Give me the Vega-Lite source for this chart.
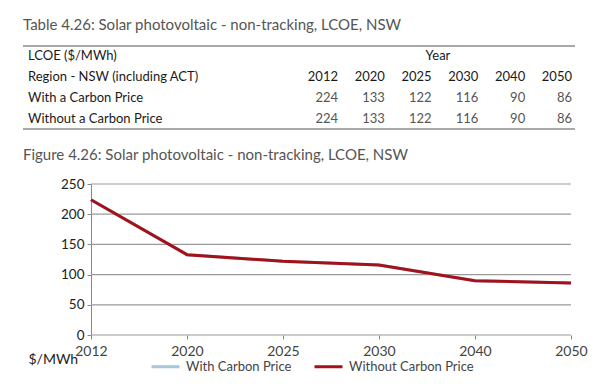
{
  "$schema": "https://vega.github.io/schema/vega-lite/v6.json",
  "padding": {"left": 22, "top": 18, "right": 0, "bottom": 0},
  "background": "white",
  "spacing": 18,
  "config": {
    "view": {"stroke": null},
    "font": "Lato",
    "title": {"font": "Lato", "fontSize": 15, "fontWeight": "normal", "color": "#555555", "anchor": "start", "frame": "group", "baseline": "bottom"}
  },
  "datasets": {
    "lcoe": [
      {"year": "2012", "scenario": "With Carbon Price", "row": "With a Carbon Price", "lcoe": 224},
      {"year": "2020", "scenario": "With Carbon Price", "row": "With a Carbon Price", "lcoe": 133},
      {"year": "2025", "scenario": "With Carbon Price", "row": "With a Carbon Price", "lcoe": 122},
      {"year": "2030", "scenario": "With Carbon Price", "row": "With a Carbon Price", "lcoe": 116},
      {"year": "2040", "scenario": "With Carbon Price", "row": "With a Carbon Price", "lcoe": 90},
      {"year": "2050", "scenario": "With Carbon Price", "row": "With a Carbon Price", "lcoe": 86},
      {"year": "2012", "scenario": "Without Carbon Price", "row": "Without a Carbon Price", "lcoe": 224},
      {"year": "2020", "scenario": "Without Carbon Price", "row": "Without a Carbon Price", "lcoe": 133},
      {"year": "2025", "scenario": "Without Carbon Price", "row": "Without a Carbon Price", "lcoe": 122},
      {"year": "2030", "scenario": "Without Carbon Price", "row": "Without a Carbon Price", "lcoe": 116},
      {"year": "2040", "scenario": "Without Carbon Price", "row": "Without a Carbon Price", "lcoe": 90},
      {"year": "2050", "scenario": "Without Carbon Price", "row": "Without a Carbon Price", "lcoe": 86}
    ],
    "rowlabels": [
      {"label": "LCOE ($/MWh)"},
      {"label": "Region - NSW (including ACT)"},
      {"label": "With a Carbon Price"},
      {"label": "Without a Carbon Price"}
    ],
    "grid": [{"gv": 0}, {"gv": 50}, {"gv": 100}, {"gv": 150}, {"gv": 200}, {"gv": 250}]
  },
  "vconcat": [
    {
      "title": {"text": "Table 4.26: Solar photovoltaic - non-tracking, LCOE, NSW", "offset": 12},
      "width": 552,
      "height": 83,
      "data": {"name": "lcoe"},
      "resolve": {"scale": {"x": "independent"}, "axis": {"x": "independent"}},
      "layer": [
        {
          "data": {"values": [{"edge": "top"}]},
          "mark": {"type": "rule", "color": "#8c8c8c", "strokeWidth": 1.5},
          "encoding": {
            "y": {"datum": "LCOE ($/MWh)", "type": "nominal", "bandPosition": 0,
              "scale": {"type": "band", "domain": ["LCOE ($/MWh)", "Region - NSW (including ACT)", "With a Carbon Price", "Without a Carbon Price"], "paddingInner": 0, "paddingOuter": 0},
              "axis": null}
          }
        },
        {
          "data": {"values": [{"edge": "bottom"}]},
          "mark": {"type": "rule", "color": "#8c8c8c", "strokeWidth": 1.5},
          "encoding": {
            "y": {"datum": "Without a Carbon Price", "type": "nominal", "bandPosition": 1, "axis": null}
          }
        },
        {
          "mark": {"type": "text", "align": "right", "baseline": "middle", "fontSize": 13, "color": "#555555"},
          "encoding": {
            "x": {"field": "year", "type": "ordinal",
              "scale": {"type": "point", "domain": ["2012", "2020", "2025", "2030", "2040", "2050"], "range": [315, 549], "padding": 0},
              "axis": null},
            "y": {"field": "row", "type": "nominal", "axis": null},
            "text": {"field": "lcoe", "type": "quantitative"}
          }
        },
        {
          "transform": [{"filter": "datum.scenario === 'With Carbon Price'"}],
          "mark": {"type": "text", "align": "right", "baseline": "middle", "fontSize": 13, "color": "#1a1a1a"},
          "encoding": {
            "x": {"field": "year", "type": "ordinal",
              "scale": {"type": "point", "domain": ["2012", "2020", "2025", "2030", "2040", "2050"], "range": [315, 549], "padding": 0},
              "axis": null},
            "y": {"datum": "Region - NSW (including ACT)", "type": "nominal", "axis": null},
            "text": {"field": "year", "type": "nominal"}
          }
        },
        {
          "data": {"values": [{"header": "Year"}]},
          "mark": {"type": "text", "align": "left", "baseline": "middle", "fontSize": 13, "color": "#1a1a1a", "dx": -6},
          "encoding": {
            "x": {"datum": "2025", "type": "ordinal",
              "scale": {"type": "point", "domain": ["2012", "2020", "2025", "2030", "2040", "2050"], "range": [315, 549], "padding": 0},
              "axis": null},
            "y": {"datum": "LCOE ($/MWh)", "type": "nominal", "axis": null},
            "text": {"field": "header", "type": "nominal"}
          }
        },
        {
          "data": {"name": "rowlabels"},
          "mark": {"type": "text", "align": "left", "baseline": "middle", "fontSize": 13, "color": "#1a1a1a", "dx": 5},
          "encoding": {
            "x": {"datum": "label", "type": "nominal",
              "scale": {"type": "point", "domain": ["label"], "padding": 0, "align": 0},
              "axis": null},
            "y": {"field": "label", "type": "nominal", "axis": null},
            "text": {"field": "label", "type": "nominal"}
          }
        }
      ]
    },
    {
      "title": {"text": "Figure 4.26: Solar photovoltaic - non-tracking, LCOE, NSW", "offset": 14},
      "width": 552,
      "height": 151,
      "layer": [
        {
          "data": {"name": "grid"},
          "mark": {"type": "rule", "color": "#9a9a9a", "strokeWidth": 1.2},
          "encoding": {
            "x": {"datum": "2012", "type": "ordinal",
              "scale": {"type": "point", "domain": ["2012", "2020", "2025", "2030", "2040", "2050"], "padding": 0.375, "align": 0.944},
              "axis": {"orient": "bottom", "domain": false, "ticks": true, "tickColor": "#888888", "tickSize": 4, "labelFontSize": 14, "labelColor": "#444444", "labelPadding": 5, "labelAngle": 0, "labelAlign": "center", "title": null, "grid": false}},
            "x2": {"datum": "2050"},
            "y": {"field": "gv", "type": "quantitative",
              "scale": {"domain": [0, 250], "nice": false},
              "axis": {"orient": "left", "offset": -68, "values": [0, 50, 100, 150, 200, 250], "labelOverlap": false, "grid": false, "domain": true, "domainColor": "#888888", "ticks": true, "tickSize": 4, "tickColor": "#888888", "labelFontSize": 13.5, "labelColor": "#222222", "labelPadding": 3,
                "title": "$/MWh", "titleAngle": 0, "titleFontSize": 14, "titleFontWeight": "normal", "titleColor": "#222222", "titleAlign": "left", "titleBaseline": "middle", "titleX": -63, "titleY": 175}}
          }
        },
        {
          "data": {"name": "lcoe"},
          "mark": {"type": "line", "strokeWidth": 3},
          "encoding": {
            "x": {"field": "year", "type": "ordinal",
              "scale": {"type": "point", "domain": ["2012", "2020", "2025", "2030", "2040", "2050"], "padding": 0.375, "align": 0.944},
              "axis": {"orient": "bottom", "domain": false, "ticks": true, "tickColor": "#888888", "tickSize": 4, "labelFontSize": 14, "labelColor": "#444444", "labelPadding": 5, "labelAngle": 0, "labelAlign": "center", "title": null, "grid": false}},
            "y": {"field": "lcoe", "type": "quantitative",
              "scale": {"domain": [0, 250], "nice": false},
              "axis": {"orient": "left", "offset": -68, "values": [0, 50, 100, 150, 200, 250], "labelOverlap": false, "grid": false, "domain": true, "domainColor": "#888888", "ticks": true, "tickSize": 4, "tickColor": "#888888", "labelFontSize": 13.5, "labelColor": "#222222", "labelPadding": 3,
                "title": "$/MWh", "titleAngle": 0, "titleFontSize": 14, "titleFontWeight": "normal", "titleColor": "#222222", "titleAlign": "left", "titleBaseline": "middle", "titleX": -63, "titleY": 175}},
            "color": {"field": "scenario", "type": "nominal",
              "scale": {"domain": ["With Carbon Price", "Without Carbon Price"], "range": ["#a7c5db", "#a3121b"]},
              "legend": {"orient": "none", "legendX": 127, "legendY": 305, "direction": "horizontal", "title": null, "labelFontSize": 13, "labelColor": "#444444", "symbolType": "stroke", "symbolStrokeWidth": 3, "symbolSize": 784, "columnPadding": 16, "labelOffset": 5}}
          }
        }
      ]
    }
  ]
}
